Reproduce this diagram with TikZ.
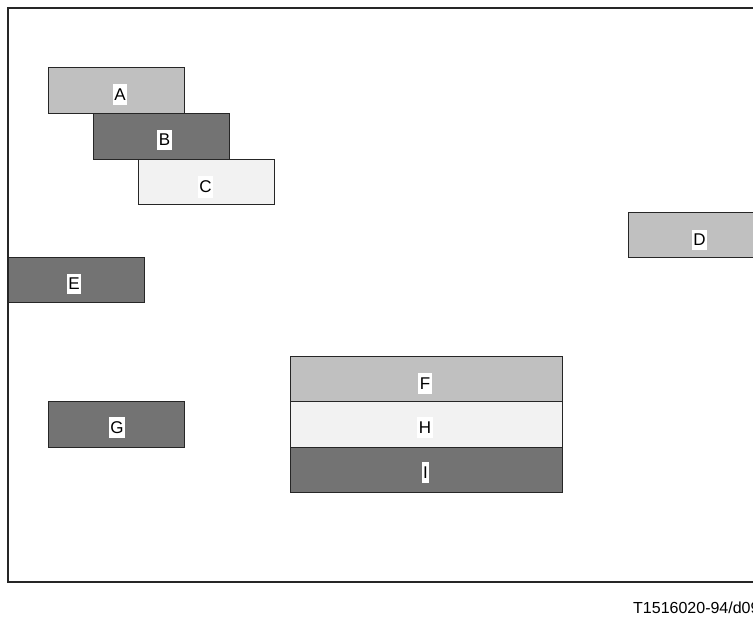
\documentclass[tikz,border=0pt]{standalone}
\usepackage{fontspec}
\setmainfont{Liberation Sans}
\definecolor{lgray}{HTML}{C0C0C0}
\definecolor{dgray}{HTML}{737373}
\definecolor{pgray}{HTML}{F2F2F2}
\begin{document}
\begin{tikzpicture}[x=1pt,y=-1pt,
  bx/.style={draw=black!85,line width=1pt,rectangle,inner sep=0pt,minimum width=136pt,minimum height=45.5pt},
  wide/.style={bx,minimum width=272pt},
  lbl/.style={fill=white,inner xsep=1.5pt,inner ysep=4.5pt,font=\fontsize{17}{17}\selectfont,text=black},
  note/.style={font=\fontsize{16}{16}\selectfont,anchor=base west,inner sep=0pt}]
\useasboundingbox (0,0) rectangle (753,617);
\clip (0,0) rectangle (753,617);
\draw[line width=1.5pt,black!85] (8,8) coordinate (frameNW) rectangle (820,582) coordinate (frameSE);
% boxes
\node[bx,fill=lgray] (A) at (116,90.5) {};
\node[bx,fill=dgray] (B) at (161,136.5) {};
\node[bx,fill=pgray] (C) at (206.5,182) {};
\node[bx,fill=lgray] (D) at (696,235) {};
\node[bx,fill=dgray] (E) at (76.5,280) {};
\node[bx,fill=dgray] (G) at (116,424.5) {};
\node[wide,fill=lgray] (F) at (426,379) {};
\node[wide,fill=pgray] (H) at (426,424.5) {};
\node[wide,fill=dgray] (I) at (426,470) {};
% labels
\node[lbl] (Alab) at (120,94.5) {A};
\node[lbl] (Blab) at (164.5,140) {B};
\node[lbl] (Clab) at (205.5,187) {C};
\node[lbl] (Dlab) at (699.5,240) {D};
\node[lbl] (Elab) at (74,284) {E};
\node[lbl] (Flab) at (425,383.5) {F};
\node[lbl] (Glab) at (117,427.5) {G};
\node[lbl] (Hlab) at (425,427.5) {H};
\node[lbl] (Ilab) at (425.5,472.5) {I};
\node[note] (code) at (633,613) {T1516020-94/d09};
\end{tikzpicture}
\end{document}
